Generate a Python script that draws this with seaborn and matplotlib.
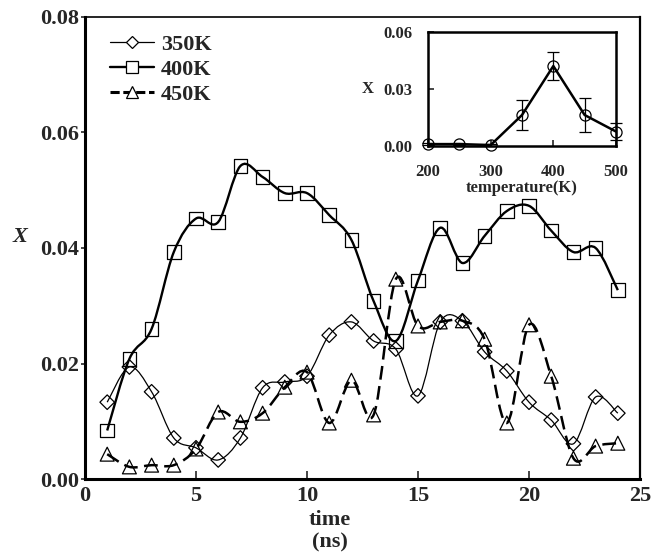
import numpy as np
import pandas as pd
import matplotlib
matplotlib.use("Agg")
import matplotlib.pyplot as plt
from matplotlib.path import Path
from matplotlib.patches import PathPatch
from matplotlib.lines import Line2D
import seaborn as sns

# ---- data -------------------------------------------------------------
time_ns = list(range(1, 25))

x_350K = [0.0133, 0.0194, 0.0151, 0.0071, 0.0054, 0.0033, 0.0071, 0.0158,
          0.0168, 0.0178, 0.0249, 0.0272, 0.0239, 0.0225, 0.0144, 0.0272,
          0.0274, 0.0220, 0.0187, 0.0133, 0.0102, 0.0061, 0.0142, 0.0114]
x_400K = [0.0084, 0.0208, 0.0260, 0.0393, 0.0451, 0.0445, 0.0542, 0.0523,
          0.0495, 0.0495, 0.0457, 0.0414, 0.0308, 0.0239, 0.0344, 0.0435,
          0.0374, 0.0421, 0.0464, 0.0473, 0.0430, 0.0393, 0.0400, 0.0327]
x_450K = [0.0043, 0.0021, 0.0024, 0.0024, 0.0052, 0.0116, 0.0099, 0.0114,
          0.0159, 0.0185, 0.0097, 0.0171, 0.0111, 0.0346, 0.0265, 0.0272,
          0.0274, 0.0242, 0.0097, 0.0267, 0.0178, 0.0036, 0.0057, 0.0062]

series_names = ["350K", "400K", "450K"]

temperature_K = [200, 250, 300, 350, 400, 450, 500]
x_mean = [0.0010, 0.0010, 0.0005, 0.0163, 0.0421, 0.0163, 0.0076]
x_err = [0.0004, 0.0004, 0.0003, 0.0080, 0.0074, 0.0090, 0.0045]

x_ticks = [0, 5, 10, 15, 20, 25]
y_ticks = [0.00, 0.02, 0.04, 0.06, 0.08]
inset_x_ticks = [200, 300, 400, 500]
inset_y_ticks = [0.00, 0.03, 0.06]

# ---- style ------------------------------------------------------------
sns.set_theme(style="ticks")
plt.rcParams["font.family"] = ["Liberation Serif", "DejaVu Serif"]
plt.rcParams["font.weight"] = "bold"
plt.rcParams["axes.labelweight"] = "bold"

df = pd.DataFrame({
    "time": time_ns * 3,
    "X": x_350K + x_400K + x_450K,
    "series": np.repeat(series_names, len(time_ns)),
})

fig = plt.figure(figsize=(6.64, 5.53), dpi=100)
ax = fig.add_axes([0.128, 0.1338, 0.8359, 0.8355])

line_styles = {
    "350K": dict(lw=0.9, ls="-"),
    "400K": dict(lw=1.7, ls="-"),
    "450K": dict(lw=1.8, ls=(0, (5.5, 2.6))),
}
markers = {"350K": "D", "400K": "s", "450K": "^"}
marker_sizes = {"350K": 55, "400K": 95, "450K": 100}


def smooth_path(xs, ys):
    """Catmull-Rom curve through the points, expressed as cubic Bezier segments."""
    pts = np.column_stack([xs, ys]).astype(float)
    padded = np.vstack([pts[0], pts, pts[-1]])
    verts = [tuple(pts[0])]
    codes = [Path.MOVETO]
    for i in range(1, len(padded) - 2):
        p0, p1, p2, p3 = padded[i - 1], padded[i], padded[i + 1], padded[i + 2]
        c1 = p1 + (p2 - p0) / 6.0
        c2 = p2 - (p3 - p1) / 6.0
        verts += [tuple(c1), tuple(c2), tuple(p2)]
        codes += [Path.CURVE4] * 3
    return Path(verts, codes)


for name in series_names:
    sub = df[df["series"] == name]
    patch = PathPatch(smooth_path(sub["time"], sub["X"]), facecolor="none",
                      edgecolor="black", lw=line_styles[name]["lw"],
                      linestyle=line_styles[name]["ls"], capstyle="butt",
                      zorder=2)
    ax.add_patch(patch)
    sns.scatterplot(data=sub, x="time", y="X", marker=markers[name],
                    s=marker_sizes[name], facecolor="none", edgecolor="black",
                    linewidth=0.9, ax=ax, zorder=3, legend=False)

ax.set_xlim(0, 25)
ax.set_ylim(0, 0.08)
ax.set_xticks(x_ticks)
ax.set_yticks(y_ticks)
ax.set_yticklabels([f"{v:.2f}" for v in y_ticks])
ax.tick_params(axis="x", direction="in", length=6, width=1.2, labelsize=16, pad=5)
ax.tick_params(axis="y", direction="out", length=3, width=1.2, labelsize=16, pad=1.5)
for side, w in {"left": 2.2, "bottom": 2.2, "top": 1.2, "right": 1.6}.items():
    ax.spines[side].set_linewidth(w)
    ax.spines[side].set_color("black")

ax.set_xlabel("time\n(ns)", fontsize=16, linespacing=1.15)
ax.xaxis.set_label_coords(0.441, -0.068)
ax.set_ylabel("X", fontsize=16, style="italic", rotation=0, ha="center", va="center")
ax.yaxis.set_label_coords(-0.117, 0.524)

handles = [
    Line2D([], [], color="black", lw=0.9, marker="D", markersize=6.5,
           markerfacecolor="white", markeredgecolor="black", markeredgewidth=0.9),
    Line2D([], [], color="black", lw=1.7, marker="s", markersize=8,
           markerfacecolor="white", markeredgecolor="black", markeredgewidth=0.9),
    Line2D([], [], color="black", lw=2.2, ls=(0, (3.0, 1.2)), marker="^", markersize=8,
           markerfacecolor="white", markeredgecolor="black", markeredgewidth=0.9),
]
leg = ax.legend(handles, series_names, loc="upper left", bbox_to_anchor=(0.045, 0.963),
                frameon=False, fontsize=16, handlelength=2.0, handletextpad=0.3,
                labelspacing=0.2, borderpad=0.0, borderaxespad=0.0)

# ---- inset: X versus temperature ---------------------------------------
inset = fig.add_axes([0.6446, 0.736, 0.2831, 0.2061])
inset_df = pd.DataFrame({"T": temperature_K, "X": x_mean, "err": x_err})
sns.lineplot(data=inset_df, x="T", y="X", color="black", lw=1.8, ax=inset, zorder=2)
inset.errorbar(inset_df["T"], inset_df["X"], yerr=inset_df["err"], fmt="o",
               markersize=8, markerfacecolor="none", markeredgecolor="black",
               markeredgewidth=0.9, ecolor="black", elinewidth=0.9, capsize=4,
               capthick=0.9, zorder=3, clip_on=False)
inset.set_xlim(200, 500)
inset.set_ylim(0, 0.06)
inset.set_xticks(inset_x_ticks)
inset.set_yticks(inset_y_ticks)
inset.set_yticklabels([f"{v:.2f}" for v in inset_y_ticks])
inset.tick_params(axis="x", direction="in", length=4, width=1.2, labelsize=12, pad=13)
inset.tick_params(axis="y", direction="in", length=4, width=1.2, labelsize=12, pad=11)
for s in inset.spines.values():
    s.set_linewidth(1.8)
    s.set_color("black")
inset.set_xlabel("temperature(K)", fontsize=12, labelpad=0)
inset.set_ylabel("X", fontsize=12, rotation=0, ha="center", va="center")
inset.yaxis.set_label_coords(-0.32, 0.5)

fig.savefig("out.png", dpi=100)
